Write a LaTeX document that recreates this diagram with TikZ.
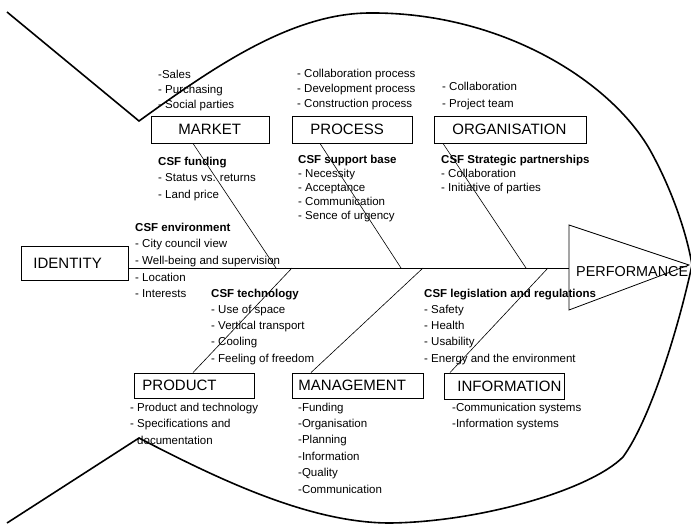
\documentclass[tikz,border=0pt]{standalone}
\usepackage{fontspec}
\setmainfont{Liberation Sans}
\usepackage{tikz}
\usetikzlibrary{calc}

\tikzset{
  cat/.style 2 args={draw, line width=0.9pt, anchor=west, align=left, inner xsep=#1,
    text width=#2, inner ysep=0pt, font=\fontsize{15}{17}\selectfont},
  itemlist/.style={anchor=north west, inner sep=0pt, align=left,
    font=\fontsize{11.5}{#1}\selectfont},
  itemlist/.default=16.5,
  bone/.style={line width=0.6pt},
  fish/.style={line width=1.6pt, line join=miter}
}

\begin{document}
\begin{tikzpicture}[x=1pt,y=-1pt]
  \useasboundingbox (0,0) rectangle (691,525);

  % fish outline
  \draw[fish] (7,12) -- (139,121) .. controls (210,70) and (290,13) .. (370,13)
    .. controls (500,12) and (610,80) .. (650,150)
    .. controls (675,195) and (688,240) .. (692,265)
    .. controls (678,330) and (650,420) .. (623,457)
    .. controls (590,490) and (480,522) .. (390,523)
    .. controls (310,523) and (220,480) .. (139,438) -- (7,523);

  % head
  \coordinate (perfT) at (569,225);
  \coordinate (perfB) at (569,310);
  \coordinate (perfL) at (569,268);
  \coordinate (perfTip) at (689,265);
  \draw[line width=0.8pt] (perfT) -- (perfTip) -- (perfB) -- cycle;
  \node[anchor=west, inner sep=0pt, font=\fontsize{14.4}{17}\selectfont] (perf) at (576,272) {PERFORMANCE};

  % categories
  \node[cat={12pt}{83pt}, minimum height=34pt] (identity) at (21,263) {IDENTITY};
  \node[cat={27pt}{64pt}, minimum height=27pt] (market) at (151,129.5) {MARKET};
  \node[cat={18pt}{84pt}, minimum height=27pt] (process) at (292,129.5) {PROCESS};
  \node[cat={18pt}{116pt}, minimum height=27pt] (organisation) at (434,129.5) {ORGANISATION};
  \node[cat={8pt}{104pt}, minimum height=25pt] (product) at (134,385.5) {PRODUCT};
  \node[cat={6pt}{119pt}, minimum height=25pt] (management) at (292,385.5) {MANAGEMENT};
  \node[cat={13pt}{94pt}, minimum height=26pt] (information) at (444,386) {INFORMATION};

  % spine and bones
  \coordinate (jmarket) at (276,268);
  \coordinate (jprocess) at (401,268);
  \coordinate (jorganisation) at (526,268);
  \coordinate (jproduct) at (292,268);
  \coordinate (jmanagement) at (423,268);
  \coordinate (jinformation) at (548,268);
  \draw[line width=0.9pt] (identity.east |- perfL) -- (perfL);
  \draw[bone] ([xshift=42pt]market.south west) -- (jmarket);
  \draw[bone] ([xshift=28pt]process.south west) -- (jprocess);
  \draw[bone] ([xshift=9pt]organisation.south west) -- (jorganisation);
  \draw[bone] ([xshift=59pt]product.north west) -- (jproduct);
  \draw[bone] ([xshift=19pt]management.north west) -- (jmanagement);
  \draw[bone] ([xshift=6pt]information.north west) -- (jinformation);

  % causes
  \node[itemlist=15] (marketitems) at (158,69.5) {-Sales\\- Purchasing\\- Social parties};
  \node[itemlist=15] (processitems) at (297,69) {- Collaboration process\\- Development process\\- Construction process};
  \node[itemlist=17] (organisationitems) at (442,81.5) {- Collaboration\\- Project team};
  \node[itemlist] (marketcsf) at (158,156.5) {\textbf{CSF funding}\\- Status vs. returns\\- Land price};
  \node[itemlist=14] (processcsf) at (298,154.5) {\textbf{CSF support base}\\- Necessity\\- Acceptance\\- Communication\\- Sence of urgency};
  \node[itemlist=14] (organisationcsf) at (441,154.5) {\textbf{CSF Strategic partnerships}\\- Collaboration\\- Initiative of parties};
  \node[itemlist=16.7] (identitycsf) at (135,222.5) {\textbf{CSF environment}\\- City council view\\- Well-being and supervision\\- Location\\- Interests};
  \node[itemlist=16.3] (productcsf) at (211,288.5) {\textbf{CSF technology}\\- Use of space\\- Vertical transport\\- Cooling\\- Feeling of freedom};
  \node[itemlist=16.3] (informationcsf) at (424,288.5) {\textbf{CSF legislation and regulations}\\- Safety\\- Health\\- Usability\\- Energy and the environment};
  \node[itemlist] (productitems) at (130,402.5) {- Product and technology\\- Specifications and\\\phantom{- }documentation};
  \node[itemlist=16.4] (managementitems) at (298,402.5) {-Funding\\-Organisation\\-Planning\\-Information\\-Quality\\-Communication};
  \node[itemlist=16] (informationitems) at (452,402.5) {-Communication systems\\-Information systems};
\end{tikzpicture}
\end{document}
